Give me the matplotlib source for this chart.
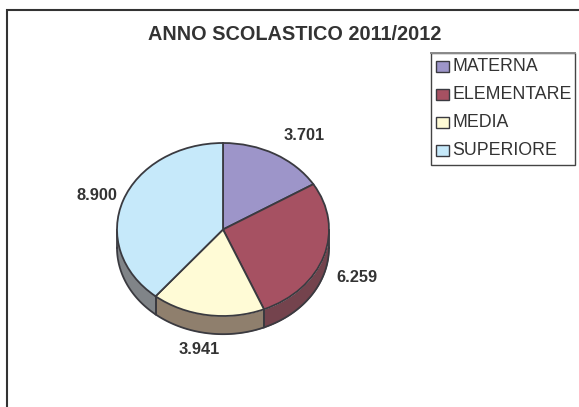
"""Pie chart of pupils per school type, 2011/2012"""
import numpy as np
import matplotlib
matplotlib.use('Agg')
import matplotlib.pyplot as plt
from matplotlib.patches import Rectangle

plt.rcParams['font.family'] = ['Liberation Sans', 'DejaVu Sans']

categories = ['MATERNA', 'ELEMENTARE', 'MEDIA', 'SUPERIORE']
values = [3701, 6259, 3941, 8900]
value_labels = ['3.701', '6.259', '3.941', '8.900']
top_colors = ['#9D95C9', '#A65162', '#FFFBD6', '#C6E9FA']
side_colors = ['#6E688C', '#74434D', '#8F7F6D', '#808488']
title = 'ANNO SCOLASTICO 2011/2012'

W, H = 579, 407
EDGE = '#3A3A40'
TEXT = '#333333'
DEPTH = 0.21  # pie thickness in radius units of y

fig = plt.figure(figsize=(W / 100, H / 100), dpi=100, facecolor='white')


def px_box(x0, y0, x1, y1):
    return [x0 / W, 1 - y1 / H, (x1 - x0) / W, (y1 - y0) / H]


# pie axes: x -1..1 over the ellipse width, y goes below -1 for the side wall
ax = fig.add_axes(px_box(117, 143, 329, 340))
ax.pie(values, colors=top_colors, startangle=90, counterclock=False,
       wedgeprops={'edgecolor': EDGE, 'linewidth': 1.3, 'zorder': 3})
ax.set_aspect('auto')
ax.set_xlim(-1, 1)
ax.set_ylim(-1 - 24 / 86.5, 1)
ax.axis('off')
for patch in ax.patches:
    patch.set_clip_on(False)

# side wall, from the same slice angles; only the front half shows
bounds = 90 - 360 * np.cumsum([0] + values) / sum(values)
for i in range(len(values)):
    a0 = max(bounds[i + 1], -180)
    a1 = min(bounds[i], 0)
    if a1 <= a0:
        continue
    t = np.radians(np.linspace(a0, a1, 80))
    x = np.cos(t)
    y = np.sin(t)
    ax.fill_between(x, y - DEPTH, y, color=side_colors[i], linewidth=0,
                    zorder=1, clip_on=False)
    ax.plot(x, y - DEPTH, color=EDGE, linewidth=1.3, zorder=2, clip_on=False)
    for xe, ye in ((x[0], y[0]), (x[-1], y[-1])):
        ax.plot([xe, xe], [ye, ye - DEPTH], color=EDGE, linewidth=1.3,
                zorder=2, clip_on=False)

# overlay for page-level things, in pixels
over = fig.add_axes([0, 0, 1, 1], facecolor='none')
over.set_xlim(0, W)
over.set_ylim(H, 0)
over.axis('off')

# frame only has a left and a top side, the rest is cut off
over.plot([6.5, 6.5, W], [H, 9.5, 9.5], color='#333333', linewidth=1.5,
          solid_joinstyle='miter')

over.text(294.5, 34, title, ha='center', va='center', fontsize=14.3,
          fontweight='bold', color=TEXT)

label_xy = [(304, 136), (356.5, 277), (199.5, 349), (97, 196)]
for text, (x, y) in zip(value_labels, label_xy):
    over.text(x, y, text, ha='center', va='center', fontsize=11.8,
              fontweight='bold', color=TEXT)

# legend box
over.add_patch(Rectangle((430.5, 52.5), 144, 112, facecolor='white',
                         edgecolor='#444444', linewidth=1.0))
over.plot([430.5, 574.5], [52.5, 52.5], color='#8A8A8A', linewidth=1.4)
for i, name in enumerate(categories):
    yc = 66.5 + 28 * i
    over.add_patch(Rectangle((435.5, yc - 5.5), 13, 11, facecolor=top_colors[i],
                             edgecolor=EDGE, linewidth=1.0))
    over.text(452, yc, name, ha='left', va='center', fontsize=12.8, color=TEXT)

fig.savefig('out.png', dpi=100)
